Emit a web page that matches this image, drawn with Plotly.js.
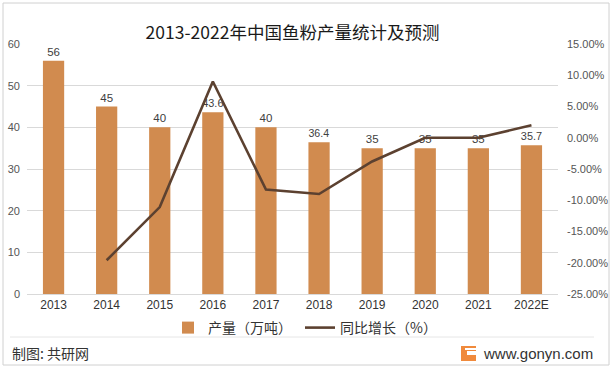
<!DOCTYPE html>
<html>
<head>
<meta charset="utf-8">
<script src="https://cdn.plot.ly/plotly-3.0.1.min.js"></script>
<style>html,body{margin:0;padding:0;background:#fff;}#chart{width:614px;height:371px;}</style>
</head>
<body>
<div id="chart"></div>
<script>
const years = ['2013','2014','2015','2016','2017','2018','2019','2020','2021','2022E'];
const output = [56, 45, 40, 43.6, 40, 36.4, 35, 35, 35, 35.7];
const growthYears = ['2014','2015','2016','2017','2018','2019','2020','2021','2022E'];
const growth = [-19.6, -11.1, 9.0, -8.3, -9.0, -3.8, 0.0, 0.0, 2.0];
const leftTicks = [0, 10, 20, 30, 40, 50, 60];
const rightTicks = [-25, -20, -15, -10, -5, 0, 5, 10, 15];
const rightTickText = rightTicks.map(v => v.toFixed(2) + '%');

const W = 614, H = 371, L = 27, R = 56, T = 44, B = 77;
const pw = W - L - R, ph = H - T - B;
const px = x => (x - L) / pw;
const py = y => (H - B - y) / ph;

const numFont = 'Liberation Sans, Arial, sans-serif';
const cjkFont = 'Noto Sans CJK SC, sans-serif';

const traces = [
  {
    type: 'bar', name: '产量（万吨）', x: years, y: output,
    marker: {color: '#D18B4F'}, width: 0.4,
    text: output.map(String), textposition: 'outside', cliponaxis: false,
    textfont: {family: numFont, size: 11.5, color: '#404040'},
    hoverinfo: 'x+y'
  },
  {
    type: 'scatter', mode: 'lines', name: '同比增长（%）', x: growthYears, y: growth,
    yaxis: 'y2', line: {color: '#5C4130', width: 2.6}
  }
];

const layout = {
  width: W, height: H,
  margin: {l: L, r: R, t: T, b: B},
  paper_bgcolor: '#ffffff', plot_bgcolor: '#ffffff',
  title: {text: '2013-2022年中国鱼粉产量统计及预测', font: {family: cjkFont, size: 17.5, color: '#1a1a1a'},
          x: 0.5, xref: 'paper', y: 1 - 33 / H, yanchor: 'middle'},
  showlegend: true,
  legend: {orientation: 'h', x: px(168), y: py(328), xanchor: 'left', yanchor: 'middle',
           font: {family: cjkFont, size: 14, color: '#333'}, bgcolor: 'rgba(0,0,0,0)', itemwidth: 30,
           entrywidth: 87, entrywidthmode: 'pixels', traceorder: 'normal'},
  xaxis: {type: 'category', tickfont: {family: numFont, size: 12, color: '#333'},
          showline: true, linecolor: '#d9d9d9', linewidth: 1, ticks: '', showgrid: false, fixedrange: true},
  yaxis: {range: [0, 60], tickvals: leftTicks, tickfont: {family: numFont, size: 11, color: '#555'},
          showgrid: true, gridcolor: '#d9d9d9', gridwidth: 1, zeroline: false, ticks: '', ticklabelstandoff: 6},
  yaxis2: {range: [-25, 15], overlaying: 'y', side: 'right', tickvals: rightTicks, ticktext: rightTickText,
           tickfont: {family: numFont, size: 11, color: '#555'}, showgrid: false, zeroline: false, ticks: '',
           ticklabelstandoff: 8},
  shapes: [
    {type: 'rect', xref: 'paper', yref: 'paper', x0: px(3), x1: px(609), y0: py(365), y1: py(3),
     line: {color: '#d0d0d0', width: 1}, fillcolor: 'rgba(0,0,0,0)', layer: 'below'},
    {type: 'line', xref: 'paper', yref: 'paper', x0: px(10), x1: px(594), y0: py(337), y1: py(337),
     line: {color: '#e6e6e6', width: 1}},
    {type: 'rect', xref: 'paper', yref: 'paper', x0: px(461), x1: px(476), y0: py(361), y1: py(346),
     line: {width: 0}, fillcolor: '#F08A3C'},
    {type: 'rect', xref: 'paper', yref: 'paper', x0: px(467), x1: px(476), y0: py(355), y1: py(351),
     line: {width: 0}, fillcolor: '#ffffff'},
    {type: 'rect', xref: 'paper', yref: 'paper', x0: px(465), x1: px(476), y0: py(350), y1: py(348),
     line: {width: 0}, fillcolor: '#ffffff'}
  ],
  annotations: [
    {text: '制图: 共研网', xref: 'paper', yref: 'paper', x: px(10), y: py(353), xanchor: 'left', yanchor: 'middle',
     showarrow: false, font: {family: cjkFont, size: 14, color: '#333'}},
    {text: 'www.gonyn.com', xref: 'paper', yref: 'paper', x: px(595), y: py(353), xanchor: 'right', yanchor: 'middle',
     showarrow: false, font: {family: 'Liberation Sans, Arial, sans-serif', size: 15, color: '#333'}}
  ]
};

Plotly.newPlot('chart', traces, layout, {displayModeBar: false, staticPlot: true});
</script>
</body>
</html>
